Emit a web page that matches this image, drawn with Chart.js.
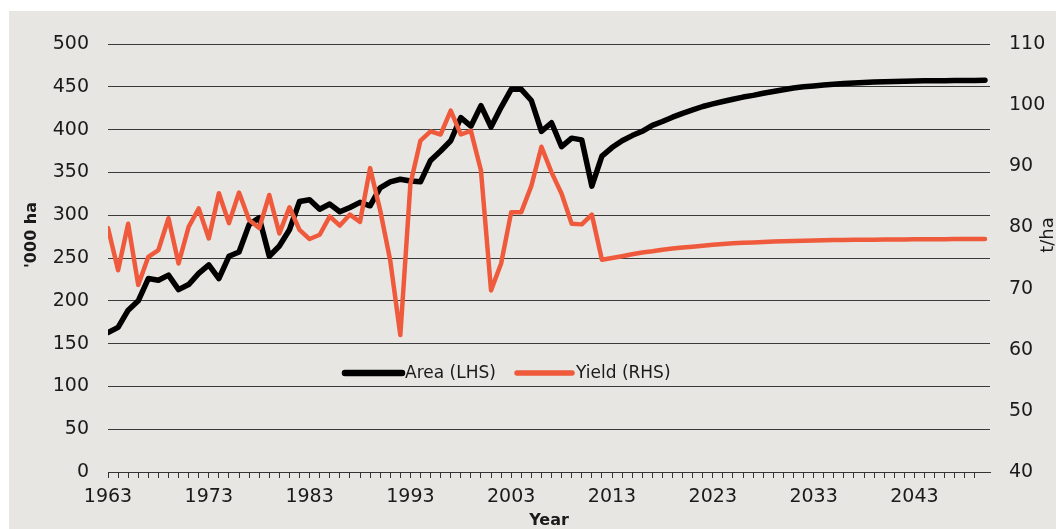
<!DOCTYPE html>
<html>
<head>
<meta charset="utf-8">
<script src="https://cdn.jsdelivr.net/npm/chart.js@4.4.1/dist/chart.umd.min.js"></script>
<style>
  html, body { margin: 0; padding: 0; background: #ffffff; }
  #wrap { position: absolute; left: 9px; top: 11px; width: 1047px; height: 518px; background: #e8e6e2; overflow: hidden; }
</style>
</head>
<body>
<div id="wrap"><canvas id="myChart" width="1047" height="518"></canvas></div>
<script>
// Years 1963 - 2050 (history + projection)
const years = [];
for (let y = 1963; y <= 2050; y++) years.push(y);

const xTickLabels = [1963, 1973, 1983, 1993, 2003, 2013, 2023, 2033, 2043];

// Area, '000 ha (left axis)
const areaValues = [
  163, 169, 189, 200, 226, 224, 230, 213, 219, 232,
  242, 226, 252, 257, 289, 297, 252, 264, 283, 316,
  318, 307, 313, 304, 309, 315, 311, 332, 339, 342,
  340, 339, 364, 375, 387, 414, 404, 428, 403, 426,
  447, 447, 434, 398, 408, 380, 390, 388, 334, 369,
  379, 387, 393, 398, 405, 409.5, 414.5, 419, 423, 427,
  430, 432.8, 435.5, 438, 440, 442.5, 444.5, 446.5, 448.5, 450,
  451, 452, 453, 453.8, 454.4, 455, 455.5, 456, 456.3, 456.6,
  456.8, 457, 457.1, 457.2, 457.3, 457.4, 457.5, 457.6
];

// Yield, t/ha (right axis)
const yieldValues = [
  79.9, 73.0, 80.6, 70.6, 75.2, 76.3, 81.5, 74.1, 80.1, 83.1,
  78.2, 85.6, 80.7, 85.7, 81.2, 79.9, 85.3, 79.0, 83.3, 79.6,
  78.1, 78.8, 81.8, 80.3, 82.1, 80.9, 89.7, 82.8, 74.6, 62.4,
  87.1, 94.2, 95.7, 95.2, 99.1, 95.2, 95.8, 89.3, 69.7, 74.1,
  82.5, 82.5, 86.8, 93.2, 89.0, 85.5, 80.6, 80.5, 82.1, 74.7,
  75.0, 75.3, 75.6, 75.9, 76.1, 76.35, 76.55, 76.7, 76.85, 77.0,
  77.15, 77.3, 77.4, 77.5, 77.55, 77.62, 77.7, 77.75, 77.8, 77.84,
  77.88, 77.9, 77.93, 77.95, 77.97, 77.99, 78.0, 78.02, 78.03, 78.04,
  78.05, 78.06, 78.07, 78.08, 78.09, 78.1, 78.1, 78.1
];

const black = '#000000';
const red = '#ef5a3c';
const textColor = '#1a1a1a';
const fontFamily = '"DejaVu Sans", sans-serif';

// legend + axis titles drawn by hand (positions match the original layout)
const overlay = {
  id: 'overlay',
  afterDraw(chart) {
    const ctx = chart.ctx;
    ctx.save();
    ctx.fillStyle = textColor;
    ctx.textBaseline = 'middle';

    // legend inside plot
    const legendY = 362;
    const entries = [
      { x1: 336, x2: 393, tx: 396, ds: chart.data.datasets[0] },
      { x1: 508, x2: 563, tx: 567, ds: chart.data.datasets[1] }
    ];
    entries.forEach(e => {
      ctx.strokeStyle = e.ds.borderColor;
      ctx.lineWidth = e.ds.borderWidth + 1;
      ctx.lineCap = 'round';
      ctx.beginPath();
      ctx.moveTo(e.x1, legendY);
      ctx.lineTo(e.x2, legendY);
      ctx.stroke();
      ctx.font = '17px ' + fontFamily;
      ctx.textAlign = 'left';
      ctx.fillText(e.ds.label, e.tx, legendY + 1);
    });

    // left title
    ctx.font = 'bold 16px ' + fontFamily;
    ctx.textAlign = 'center';
    ctx.save();
    ctx.translate(23, 224);
    ctx.rotate(-Math.PI / 2);
    ctx.fillText("'000 ha", 0, 0);
    ctx.restore();

    // right title
    ctx.font = '18px ' + fontFamily;
    ctx.save();
    ctx.translate(1039, 224);
    ctx.rotate(-Math.PI / 2);
    ctx.fillText('t/ha', 0, 0);
    ctx.restore();

    // x title
    ctx.font = 'bold 16px ' + fontFamily;
    ctx.fillText('Year', 540, 510);

    ctx.restore();
  }
};

const config = {
  type: 'line',
  data: {
    datasets: [
      {
        label: 'Area (LHS)',
        data: years.map((yr, i) => ({ x: yr, y: areaValues[i] })),
        borderColor: black,
        backgroundColor: black,
        borderWidth: 5.5,
        pointRadius: 0,
        tension: 0,
        borderJoinStyle: 'round',
        borderCapStyle: 'round',
        yAxisID: 'y',
        order: 1
      },
      {
        label: 'Yield (RHS)',
        data: years.map((yr, i) => ({ x: yr, y: yieldValues[i] })),
        borderColor: red,
        backgroundColor: red,
        borderWidth: 4.5,
        pointRadius: 0,
        tension: 0,
        borderJoinStyle: 'round',
        borderCapStyle: 'round',
        yAxisID: 'y1',
        order: 0
      }
    ]
  },
  options: {
    responsive: false,
    animation: false,
    layout: { padding: { top: 33, left: 0, right: 0, bottom: 0 } },
    plugins: {
      legend: { display: false },
      tooltip: { enabled: false }
    },
    scales: {
      x: {
        type: 'linear',
        position: 'bottom',
        min: 1963,
        max: 2050.5,
        afterBuildTicks: scale => {
          scale.ticks = scale.ticks.filter(t => Number.isInteger(t.value));
        },
        afterFit: scale => { scale.height = 57; },
        ticks: {
          stepSize: 1,
          autoSkip: false,
          maxRotation: 0,
          padding: 8,
          color: textColor,
          font: { family: fontFamily, size: 19 },
          callback: v => xTickLabels.includes(v) ? String(v) : ''
        },
        grid: {
          drawOnChartArea: false,
          drawTicks: true,
          tickLength: 6,
          color: '#333333'
        },
        border: { display: true, color: '#333333', width: 1 }
      },
      y: {
        position: 'left',
        min: 0,
        max: 500,
        afterFit: scale => { scale.width = 99; },
        ticks: {
          stepSize: 50,
          padding: 19,
          color: textColor,
          font: { family: fontFamily, size: 19 }
        },
        grid: { color: '#3a3a3a', lineWidth: 1, drawTicks: false },
        border: { display: false }
      },
      y1: {
        position: 'right',
        min: 40,
        max: 110,
        afterFit: scale => { scale.width = 66; },
        ticks: {
          stepSize: 10,
          padding: 19,
          color: textColor,
          font: { family: fontFamily, size: 19 }
        },
        grid: { display: false, drawTicks: false },
        border: { display: false }
      }
    }
  },
  plugins: [overlay]
};

new Chart(document.getElementById('myChart'), config);
</script>
</body>
</html>
